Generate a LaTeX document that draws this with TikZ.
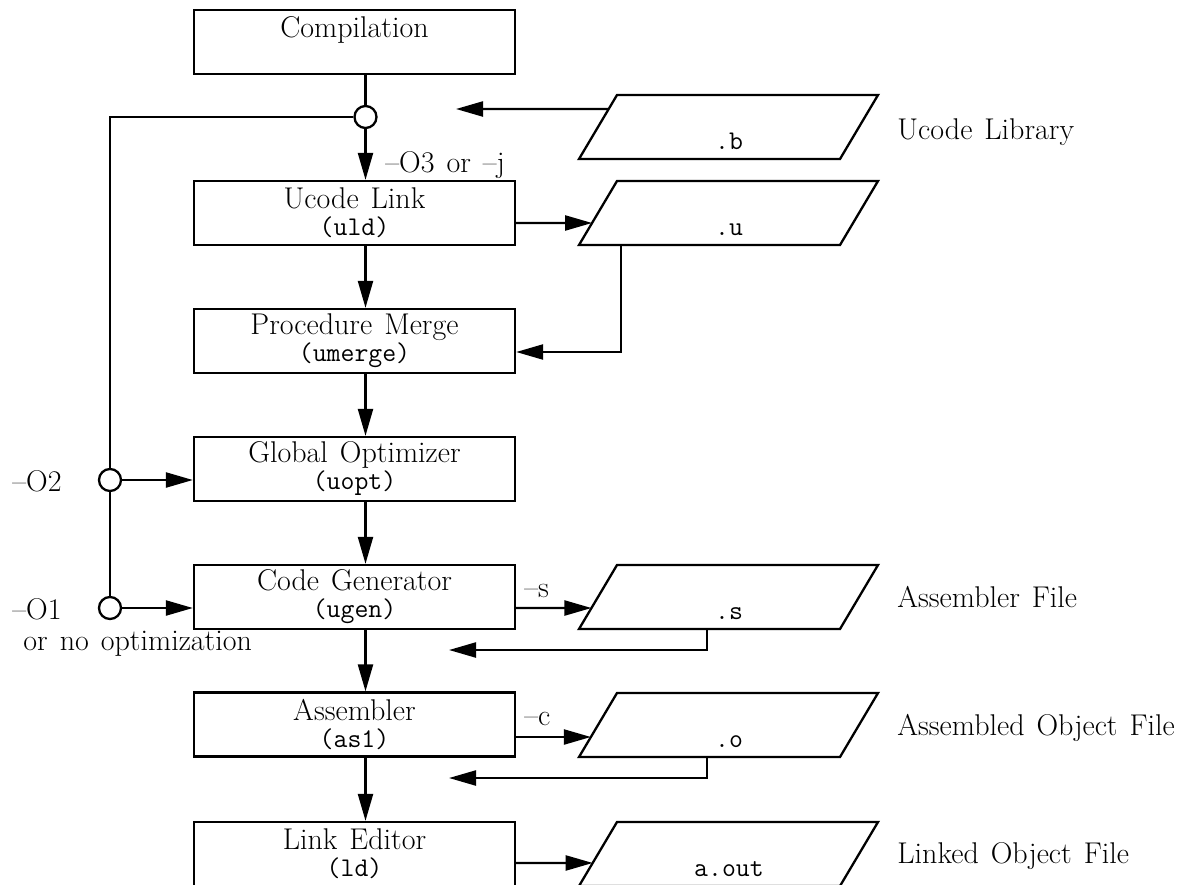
\documentclass[tikz,border=0pt]{standalone}
\usepackage{fontspec}
\usetikzlibrary{arrows.meta,calc}
\newcommand\rmtext{\fontsize{15pt}{13.5pt}\selectfont\spaceskip=6pt plus 1pt minus 1pt\relax}
\newcommand\tttext{\ttfamily\fontsize{13.5pt}{13.5pt}\selectfont}
\newcommand\mkpgram[3]{%
  \coordinate (#1-tl) at (617,#2);
  \coordinate (#1-tr) at (878,#2);
  \coordinate (#1-br) at (840,{#2+64});
  \coordinate (#1-bl) at (579,{#2+64});
  \draw[ln] (#1-tl) -- (#1-tr) -- (#1-br) -- (#1-bl) -- cycle;
  \node[ftext] (#1) at (729,{#2+54}) {#3};}
\tikzset{
  ln/.style={line width=1.15pt},
  box/.style={draw, line width=1.15pt, minimum width=160.5pt, minimum height=32pt,
    inner sep=0pt, align=center, font=\rmtext},
  arr/.style={line width=1.15pt, -{Triangle[length=13.5pt,width=7.5pt]}},
  sw/.style={circle, draw, fill=white, line width=1.15pt, minimum size=11pt, inner sep=0pt},
  lbl/.style={font=\rmtext, inner sep=0pt, anchor=base west},
  ftext/.style={font=\tttext, inner sep=0pt, anchor=base},
}
\begin{document}
\begin{tikzpicture}[x=0.5pt,y=-0.5pt]
\useasboundingbox (0,0) rectangle (1204,884);
% process boxes
\node[box] (comp)   at (354.5,42)    {Compilation\\\phantom{\tttext(x)}};
\node[box] (uld)    at (354.5,213)   {Ucode Link\\{\tttext(uld)}};
\node[box] (umerge) at (354.5,341)   {Procedure Merge\\{\tttext(umerge)}};
\node[box] (uopt)   at (354.5,469)   {Global Optimizer\\{\tttext(uopt)}};
\node[box] (ugen)   at (354.5,597)   {Code Generator\\{\tttext(ugen)}};
\node[box] (as1)    at (354.5,724.5) {Assembler\\{\tttext(as1)}};
\node[box] (ld)     at (354.5,854)   {Link Editor\\{\tttext(ld)}};
% switches
\coordinate (spine) at (365.5,0);
\node[sw] (s3) at (365.5,117) {};
\node[sw] (s2) at (110,480) {};
\node[sw] (s1) at (110,608) {};
% files
\mkpgram{b}{95}{.b}
\mkpgram{u}{181}{.u}
\mkpgram{s}{565}{.s}
\mkpgram{o}{693}{.o}
\mkpgram{aout}{822}{a.out}
% free ends
\coordinate (bfree) at (456,109);
\coordinate (sfree) at (449,650);
\coordinate (ofree) at (449,778);
% main chain
\draw[ln]  (comp.south -| spine) -- (s3);
\draw[arr] (s3) -- (uld.north -| spine);
\draw[arr] (uld.south -| spine) -- (umerge.north -| spine);
\draw[arr] (umerge.south -| spine) -- (uopt.north -| spine);
\draw[arr] (uopt.south -| spine) -- (ugen.north -| spine);
\draw[arr] (ugen.south -| spine) -- (as1.north -| spine);
\draw[arr] (as1.south -| spine) -- (ld.north -| spine);
% optimisation bypass
\draw[ln]  (s3) -| (s2);
\draw[ln]  (s2) -- (s1);
\draw[arr] (s2) -- (s2 -| uopt.west);
\draw[arr] (s1) -- (s1 -| ugen.west);
% file connectors
\draw[arr] ($(b-tl)!0.219!(b-bl)$) -- (bfree);
\draw[arr] ([yshift=-5pt]uld.east) -- ($(u-tl)!0.656!(u-bl)$);
\draw[arr] ([xshift=21pt]u-bl) |- ([yshift=-5.5pt]umerge.east);
\draw[arr] ([yshift=-5.5pt]ugen.east) -- ($(s-tl)!0.672!(s-bl)$);
\draw[arr] ([xshift=64pt]s-bl) |- (sfree);
\draw[arr] ([yshift=-6.25pt]as1.east) -- ($(o-tl)!0.6875!(o-bl)$);
\draw[arr] ([xshift=64pt]o-bl) |- (ofree);
\draw[arr] ([yshift=-4.5pt]ld.east) -- ($(aout-tl)!0.64!(aout-bl)$);
% labels
\node[lbl] (o3l)   at (385,172) {\textendash O3 or \textendash j};
\node[lbl] (sl)    at (524,597) {\textendash s};
\node[lbl] (cl)    at (524,725) {\textendash c};
\node[lbl] (o2l)   at (12,491)  {\textendash O2};
\node[lbl] (o1l)   at (12,619)  {\textendash O1};
\node[lbl] (noopt) at (23,650)  {or no optimization};
\node[lbl] (libl)  at (897,139) {Ucode Library};
\node[lbl] (asfl)  at (897,607) {Assembler File};
\node[lbl] (aofl)  at (897,735) {Assembled Object File};
\node[lbl] (lofl)  at (897,863) {Linked Object File};
\end{tikzpicture}
\end{document}
